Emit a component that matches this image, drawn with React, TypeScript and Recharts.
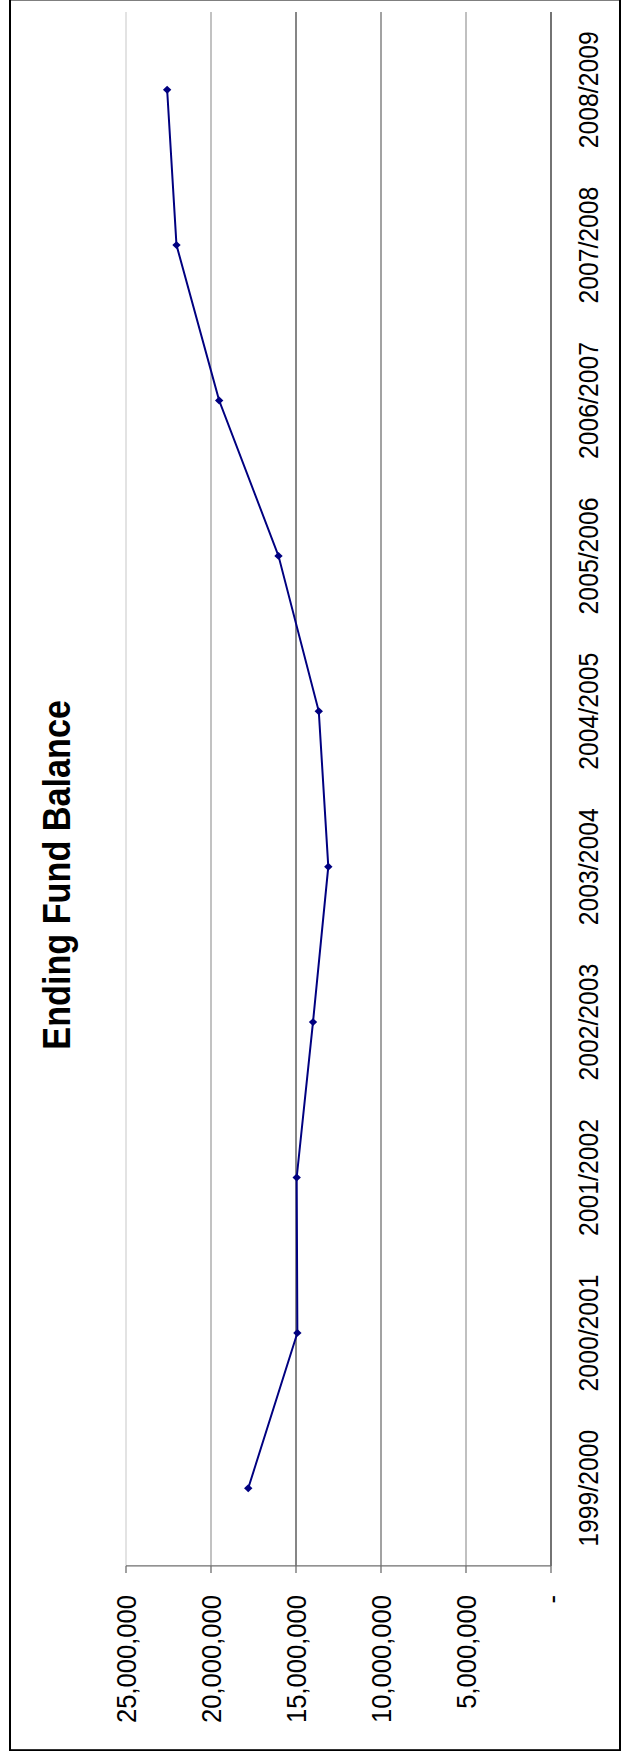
import React from 'react';
import { LineChart, Line, XAxis, YAxis, ReferenceLine } from 'recharts';

const YEARS = [
  '1999/2000',
  '2000/2001',
  '2001/2002',
  '2002/2003',
  '2003/2004',
  '2004/2005',
  '2005/2006',
  '2006/2007',
  '2007/2008',
  '2008/2009',
];

const BALANCE = [
  17810000, 14920000, 14960000, 14000000, 13100000, 13660000, 16030000, 19520000, 22030000,
  22580000,
];

const VALUE_TICKS = [0, 5000000, 10000000, 15000000, 20000000, 25000000];

// the scanned original shows its gridlines in uneven greys
const GRID_COLORS: Record<number, string> = {
  5000000: '#7a7a7a',
  10000000: '#3c3c3c',
  15000000: '#000000',
  20000000: '#808080',
  25000000: '#c4c4c4',
};

const FONT = "'Liberation Sans', Arial, sans-serif";
const STRETCH = 0.9; // the picture is squeezed along its long side

const rows = YEARS.map((year, i) => ({ year, balance: BALANCE[i] }));
const boundTicks = [...YEARS.map((_, i) => i), YEARS.length];

const formatValue = (v: number) => (v === 0 ? '-' : v.toLocaleString('en-US'));

const Diamond = (props: any) => {
  const { cx, cy, index } = props;
  if (cx == null || cy == null) return null;
  const w = 4.4;
  const h = 4.2;
  return (
    <polygon
      key={`d-${index}`}
      points={`${cx - w},${cy} ${cx},${cy - h} ${cx + w},${cy} ${cx},${cy + h}`}
      fill="#000080"
      stroke="none"
    />
  );
};

export default function App() {
  return (
    <div
      style={{
        position: 'absolute',
        left: 0,
        top: 0,
        width: 624,
        height: 1753,
        overflow: 'hidden',
        background: '#fff',
      }}
    >
      <div
        style={{
          position: 'absolute',
          left: 9,
          top: 1751,
          width: 1947,
          height: 612,
          boxSizing: 'border-box',
          border: '2px solid #000',
          background: '#fff',
          transformOrigin: '0 0',
          transform: `rotate(-90deg) scaleX(${STRETCH})`,
        }}
      >
        <div
          style={{
            position: 'absolute',
            left: 0,
            right: 0,
            top: 26.5,
            textAlign: 'center',
            fontFamily: FONT,
            fontWeight: 'bold',
            fontSize: 38,
            lineHeight: '38px',
            color: '#000',
          }}
        >
          Ending Fund Balance
        </div>
        <LineChart
          width={1943}
          height={608}
          data={rows}
          margin={{ top: 115, right: 12.8, left: 13.6, bottom: 8 }}
        >
          {/* boundary tick marks between the categories, right on the plot edge */}
          <XAxis
            xAxisId={0}
            type="number"
            domain={[0, YEARS.length]}
            ticks={boundTicks}
            allowDataOverflow
            tick={false}
            tickSize={7}
            height={8}
            axisLine={{ stroke: '#000', strokeWidth: 1.1 }}
            tickLine={{ stroke: '#000', strokeWidth: 1.1 }}
          />
          <XAxis
            xAxisId={1}
            dataKey="year"
            interval={0}
            padding={{ left: 86.3, right: 86.3 }}
            axisLine={false}
            tickLine={false}
            tickSize={0}
            tickMargin={19}
            height={52}
            tick={{ fill: '#000', fontSize: 27.5, fontFamily: FONT }}
          />
          <YAxis
            type="number"
            domain={[0, 25000000]}
            ticks={VALUE_TICKS}
            interval={0}
            width={190}
            tickFormatter={formatValue}
            tickSize={7.8}
            tickMargin={24.5}
            axisLine={{ stroke: '#6e6e6e', strokeWidth: 1.3 }}
            tickLine={{ stroke: '#6e6e6e', strokeWidth: 1.3 }}
            tick={{ fill: '#000', fontSize: 28.4, fontFamily: FONT }}
          />
          {VALUE_TICKS.filter((v) => v > 0).map((v) => (
            <ReferenceLine key={v} xAxisId={0} y={v} stroke={GRID_COLORS[v]} strokeWidth={1} />
          ))}
          <Line
            xAxisId={1}
            type="linear"
            dataKey="balance"
            stroke="#000080"
            strokeWidth={2}
            dot={Diamond}
            activeDot={false}
            isAnimationActive={false}
          />
        </LineChart>
      </div>
    </div>
  );
}
